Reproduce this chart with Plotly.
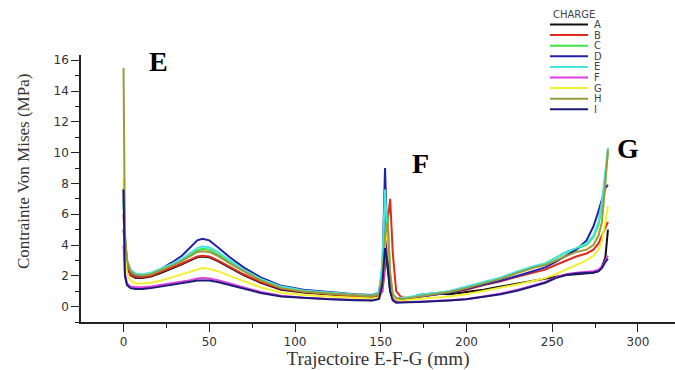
import plotly.graph_objects as go

# ---------------- data ----------------
x_mm = [0, 0.8, 2, 4, 7, 11, 16, 22, 28, 34,
        39, 43, 46, 50, 55, 62, 70, 80, 92, 105,
        120, 135, 145, 149, 151, 152.5, 154, 155.5, 157, 159,
        162, 166, 172, 180, 190, 200, 210, 220, 230, 240,
        246, 252, 258, 264, 270, 274, 277, 279, 281, 282.5]

series_names = ["A", "B", "C", "D", "E", "F", "G", "H", "I"]
series_colors = ["#111111", "#e02a1e", "#3fe04a", "#2222a8", "#45e6e0",
                 "#e03ee0", "#f4f030", "#9a9a3a", "#1c1c78"]

A = [5.0, 3.8, 2.6, 2.05, 1.85, 1.85, 1.95, 2.2, 2.45, 2.75,
     3.0, 3.2, 3.25, 3.2, 2.95, 2.55, 2.05, 1.55, 1.1, 0.92,
     0.78, 0.66, 0.62, 0.7, 1.5, 3.7, 2.5, 1.0, 0.5, 0.38,
     0.4, 0.5, 0.75, 0.85, 0.8, 0.95, 1.1, 1.3, 1.5, 1.7,
     1.8, 1.95, 2.05, 2.1, 2.15, 2.2, 2.3, 2.6, 3.2, 5.0]
B = [6.0, 4.0, 2.7, 2.1, 1.9, 1.9, 2.0, 2.25, 2.5, 2.8,
     3.05, 3.25, 3.3, 3.25, 3.0, 2.6, 2.1, 1.6, 1.15, 0.95,
     0.8, 0.68, 0.65, 0.7, 1.0, 2.5, 5.5, 7.0, 3.5, 1.0,
     0.6, 0.55, 0.62, 0.75, 0.9, 1.1, 1.4, 1.65, 1.95, 2.25,
     2.4, 2.7, 3.0, 3.25, 3.45, 3.7, 4.1, 4.6, 5.2, 5.5]
C = [7.0, 4.3, 2.9, 2.3, 2.1, 2.05, 2.15, 2.4, 2.7, 3.0,
     3.4, 3.65, 3.75, 3.7, 3.4, 2.9, 2.35, 1.75, 1.25, 1.0,
     0.85, 0.75, 0.7, 0.85, 2.5, 5.5, 6.0, 2.0, 0.8, 0.55,
     0.55, 0.6, 0.7, 0.85, 1.0, 1.25, 1.55, 1.85, 2.25, 2.6,
     2.8, 3.15, 3.5, 3.75, 4.0, 4.5, 5.3, 6.5, 8.5, 10.0]
D = [7.6, 4.5, 3.0, 2.3, 2.0, 2.0, 2.15, 2.45, 2.85, 3.3,
     3.85, 4.3, 4.4, 4.3, 3.85, 3.2, 2.55, 1.9, 1.35, 1.1,
     0.95, 0.8, 0.75, 0.9, 2.5, 9.0, 3.5, 1.0, 0.6, 0.5,
     0.5, 0.55, 0.65, 0.75, 0.9, 1.15, 1.4, 1.7, 2.0, 2.35,
     2.55, 2.9, 3.3, 3.7, 4.3, 5.2, 6.2, 7.0, 7.7, 7.9]
E = [7.0, 4.5, 3.0, 2.4, 2.15, 2.1, 2.2, 2.45, 2.75, 3.1,
     3.5, 3.8, 3.9, 3.85, 3.55, 3.0, 2.4, 1.8, 1.3, 1.05,
     0.9, 0.78, 0.72, 0.9, 3.0, 7.6, 4.5, 1.2, 0.7, 0.55,
     0.55, 0.6, 0.75, 0.85, 1.0, 1.3, 1.6, 1.9, 2.3, 2.65,
     2.8, 3.2, 3.55, 3.8, 4.1, 4.6, 5.5, 6.8, 9.0, 10.3]
F = [4.0, 2.2, 1.5, 1.3, 1.25, 1.25, 1.3, 1.4, 1.5, 1.6,
     1.72, 1.82, 1.85, 1.82, 1.72, 1.5, 1.25, 0.95, 0.7, 0.58,
     0.5, 0.45, 0.42, 0.5, 1.2, 3.0, 3.5, 1.5, 0.5, 0.3,
     0.28, 0.3, 0.32, 0.35, 0.42, 0.5, 0.65, 0.85, 1.1, 1.4,
     1.6, 1.9, 2.1, 2.2, 2.25, 2.3, 2.4, 2.6, 3.0, 3.3]
G = [8.3, 3.5, 2.2, 1.7, 1.5, 1.5, 1.55, 1.7, 1.9, 2.1,
     2.3, 2.45, 2.5, 2.45, 2.3, 2.0, 1.65, 1.25, 0.9, 0.75,
     0.65, 0.55, 0.52, 0.6, 1.5, 4.0, 5.0, 2.0, 0.7, 0.45,
     0.4, 0.45, 0.5, 0.55, 0.65, 0.8, 1.0, 1.2, 1.45, 1.7,
     1.85, 2.1, 2.4, 2.75, 3.0, 3.3, 3.7, 4.3, 5.5, 6.5]
H = [15.5, 4.8, 3.0, 2.3, 2.05, 2.0, 2.1, 2.35, 2.65, 2.95,
     3.3, 3.55, 3.6, 3.55, 3.3, 2.8, 2.3, 1.7, 1.2, 0.98,
     0.85, 0.72, 0.68, 0.8, 2.0, 4.5, 5.5, 2.2, 0.8, 0.55,
     0.5, 0.55, 0.65, 0.8, 0.95, 1.2, 1.5, 1.8, 2.2, 2.55,
     2.7, 3.0, 3.3, 3.55, 3.7, 4.0, 4.6, 5.5, 8.0, 10.2]
I = [7.6, 2.0, 1.4, 1.2, 1.15, 1.15, 1.2, 1.3, 1.4, 1.5,
     1.62, 1.7, 1.72, 1.7, 1.6, 1.4, 1.15, 0.88, 0.65, 0.55,
     0.48, 0.42, 0.4, 0.5, 1.5, 3.8, 2.8, 1.0, 0.4, 0.25,
     0.25, 0.28, 0.3, 0.33, 0.4, 0.48, 0.62, 0.8, 1.05, 1.35,
     1.55, 1.85, 2.05, 2.15, 2.2, 2.22, 2.3, 2.5, 2.9, 3.1]

series_values = [A, B, C, D, E, F, G, H, I]

x_ticks = [0, 50, 100, 150, 200, 250, 300]
y_ticks = [0, 2, 4, 6, 8, 10, 12, 14, 16]

point_labels = ["E", "F", "G"]

# ---------------- layout helpers ----------------
W, H_ = 675, 370
ML, MR, MT, MB = 81, 0, 55, 48
PW, PH = W - ML - MR, H_ - MT - MB


def px_x(p):
    return (p - ML) / PW


def px_y(p):
    return (H_ - MB - p) / PH


fig = go.Figure()
for name, col, vals in zip(series_names, series_colors, series_values):
    fig.add_trace(go.Scatter(x=x_mm, y=vals, mode="lines", name=name,
                             line=dict(color=col, width=2),
                             showlegend=False))

tick_font = dict(family="DejaVu Sans", size=12, color="#333333")

fig.update_layout(
    width=W, height=H_,
    margin=dict(l=ML, r=MR, t=MT, b=MB),
    paper_bgcolor="white", plot_bgcolor="white",
    xaxis=dict(range=[-24.8, 321.6], tickvals=x_ticks,
               ticks="outside", ticklen=8, tickwidth=1.3, tickcolor="#222",
               showline=True, linecolor="#222", linewidth=1.5,
               showgrid=False, zeroline=False, tickfont=tick_font,
               minor=dict(dtick=25, tick0=0, ticks="outside", ticklen=4,
                          tickwidth=1.2, tickcolor="#222"),
               title=dict(text="Trajectoire E-F-G (mm)",
                          font=dict(family="Liberation Serif", size=19,
                                    color="#333333"), standoff=6)),
    yaxis=dict(range=[-1.0, 16.34], tickvals=y_ticks,
               ticks="outside", ticklen=8, tickwidth=1.3, tickcolor="#222",
               showline=True, linecolor="#222", linewidth=1.5,
               showgrid=False, zeroline=False, tickfont=tick_font,
               minor=dict(dtick=1, tick0=0, ticks="outside", ticklen=4,
                          tickwidth=1.2, tickcolor="#222")),
)

annotations = []
shapes = []

# y-axis title
annotations.append(dict(text="Contrainte Von Mises (MPa)", textangle=-90,
                        xref="paper", yref="paper", x=px_x(23), y=px_y(172),
                        xanchor="center", yanchor="middle", showarrow=False,
                        font=dict(family="Liberation Serif", size=17,
                                  color="#333333")))

# point labels E, F, G
label_pos = [(158, 62), (420, 163), (628, 148)]
for lab, (lx, ly) in zip(point_labels, label_pos):
    annotations.append(dict(text="<b>%s</b>" % lab, xref="paper", yref="paper",
                            x=px_x(lx), y=px_y(ly), xanchor="center",
                            yanchor="middle", showarrow=False,
                            font=dict(family="Liberation Serif", size=28,
                                      color="black")))

# manual compact legend
annotations.append(dict(text="CHARGE", xref="paper", yref="paper",
                        x=px_x(551), y=px_y(14), xanchor="left",
                        yanchor="middle", showarrow=False,
                        font=dict(family="DejaVu Sans", size=10,
                                  color="#444444")))
for i, (name, col) in enumerate(zip(series_names, series_colors)):
    yy = 24.5 + 10.6 * i
    shapes.append(dict(type="line", xref="paper", yref="paper",
                       x0=px_x(550), x1=px_x(588), y0=px_y(yy), y1=px_y(yy),
                       line=dict(color=col, width=2)))
    annotations.append(dict(text=name, xref="paper", yref="paper",
                            x=px_x(592), y=px_y(yy), xanchor="left",
                            yanchor="middle", showarrow=False,
                            font=dict(family="DejaVu Sans", size=10,
                                      color="#444444")))

fig.update_layout(annotations=annotations, shapes=shapes)
fig.write_html("out.html",
               config={"displayModeBar": False},
               post_script="document.body.style.margin='0';"
                           "document.body.style.overflow='hidden';")
